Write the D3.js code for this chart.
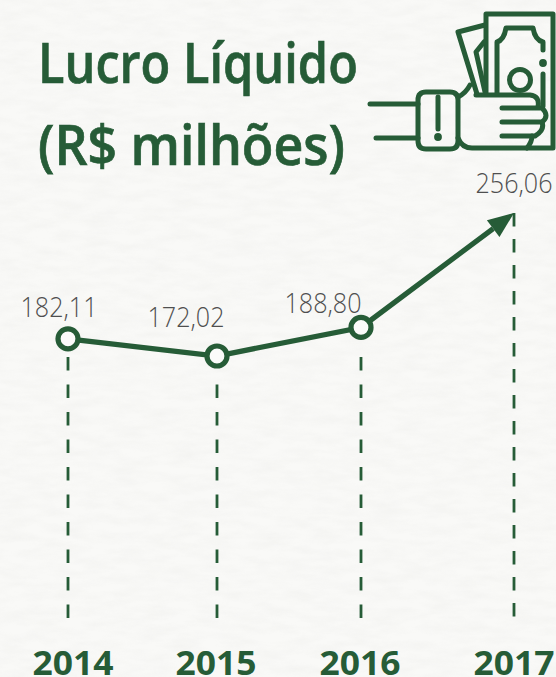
<!DOCTYPE html>
<html lang="pt">
<head>
<meta charset="utf-8">
<script src="https://cdn.jsdelivr.net/npm/d3@7/dist/d3.min.js"></script>
<style>
html,body{margin:0;padding:0;background:#f7f7f5;overflow:hidden}
svg{display:block}
</style>
</head>
<body>
<div id="chart"></div>
<script>
const years = ["2014", "2015", "2016", "2017"];
const lucro = [182.11, 172.02, 188.80, 256.06];
const valueLabels = ["182,11", "172,02", "188,80", "256,06"];
const titleLines = ["Lucro Líquido", "(R$ milhões)"];

const W = 556, H = 677, green = "#265c37", grey = "#4f4f4f";
const svg = d3.select("#chart").append("svg").attr("width", W).attr("height", H);

// paper texture
const defs = svg.append("defs");
const f = defs.append("filter").attr("id", "paper").attr("x", 0).attr("y", 0).attr("width", "100%").attr("height", "100%");
f.append("feTurbulence").attr("type", "fractalNoise").attr("baseFrequency", "0.035 0.12").attr("numOctaves", 4).attr("seed", 7);
f.append("feColorMatrix").attr("type", "matrix").attr("values", "0 0 0 0 0.55  0 0 0 0 0.55  0 0 0 0 0.52  0.28 0 0 0 -0.09");
svg.append("rect").attr("width", W).attr("height", H).attr("fill", "#f9f9f7");
svg.append("rect").attr("width", W).attr("height", H).attr("filter", "url(#paper)").attr("opacity", .55);

const x = d3.scaleOrdinal().domain(years).range([68, 217, 361, 514]);
const y = d3.scaleLinear().domain([172.02, 256.06]).range([356, 213]);

// squeezes real text horizontally to a target width around an anchor point
function fit(sel, widthFn, anchorFn, baseFn, mid) {
  sel.each(function (d, i) {
    const t = d3.select(this);
    const w = this.getComputedTextLength();
    const k = widthFn(d, i) / w;
    t.attr("text-anchor", mid ? "middle" : "start")
     .attr("transform", `translate(${anchorFn(d, i)},${baseFn(d, i)}) scale(${k},1)`);
  });
}

// title
const titleX = [38, 38], titleY = [83, 165], titleW = [320, 307];
svg.append("g").selectAll("text").data(titleLines).join("text")
  .attr("font-family", "'Open Sans', sans-serif").attr("font-weight", 600).attr("font-size", 56)
  .attr("fill", green).attr("stroke", green).attr("stroke-width", 0.7).text(d => d)
  .call(fit, (d, i) => titleW[i], (d, i) => titleX[i], (d, i) => titleY[i], false);

// dashed guides, each measured from its own end
const axisBottom = 618;
const guideTopGap = [18, 16, 18];
svg.append("g").selectAll("line").data(years).join("line")
  .attr("x1", d => x(d)).attr("x2", d => x(d))
  .attr("y1", (d, i) => i === 3 ? y(lucro[i]) : axisBottom)
  .attr("y2", (d, i) => i === 3 ? axisBottom - 1 : y(lucro[i]) + guideTopGap[i])
  .attr("stroke", green).attr("stroke-width", 2.8)
  .attr("stroke-dasharray", (d, i) => i === 3 ? "13.5 12.5" : "13.5 14");

// line
const pts = years.map((d, i) => [x(d), y(lucro[i])]);
const tip = pts[3], prev = pts[2];
const ang = Math.atan2(tip[1] - prev[1], tip[0] - prev[0]);
const head = 26, hw = 10.5;
const base = [tip[0] - head * Math.cos(ang), tip[1] - head * Math.sin(ang)];
svg.append("path").datum([...pts.slice(0, 3), base])
  .attr("d", d3.line()).attr("fill", "none").attr("stroke", green).attr("stroke-width", 5.2);
svg.append("path").attr("fill", green).attr("d", d3.line()([
  tip,
  [base[0] + hw * Math.sin(ang), base[1] - hw * Math.cos(ang)],
  [base[0] - hw * Math.sin(ang), base[1] + hw * Math.cos(ang)]
]) + "Z");

// markers
svg.append("g").selectAll("circle").data(years.slice(0, 3)).join("circle")
  .attr("cx", d => x(d)).attr("cy", (d, i) => y(lucro[i])).attr("r", 10)
  .attr("fill", "#fbfbfa").attr("stroke", green).attr("stroke-width", 5.2);

// value labels
const labelCx = [59, 186, 323, 514], labelBase = [317, 327, 313, 193];
svg.append("g").selectAll("text").data(valueLabels).join("text")
  .attr("font-family", "'Open Sans', sans-serif").attr("font-weight", 300).attr("font-size", 27)
  .attr("fill", grey).text(d => d)
  .call(fit, () => 77, (d, i) => labelCx[i], (d, i) => labelBase[i], true);

// year labels
const yearCx = [73, 216, 360, 514];
svg.append("g").selectAll("text").data(years).join("text")
  .attr("font-family", "'Open Sans', sans-serif").attr("font-weight", 700).attr("font-size", 34)
  .attr("fill", green).text(d => d)
  .call(fit, () => 81, (d, i) => yearCx[i], () => 675, true);

// icon
const icon = svg.append("g").attr("fill", "none").attr("stroke", green).attr("stroke-width", 5)
  .attr("stroke-linecap", "round").attr("stroke-linejoin", "round");
[
  "M370,104H418", "M376,138H418",
  "M426,92H450Q458,92 458,100V141Q458,149 450,149H426Q418,149 418,141V100Q418,92 426,92Z",
  "M438,97V129",
  "M458,97Q466,93 470,85", "M458,138Q462,148 472,148H553V14H486V94",
  "M476,95H530Q540,96 538,107",
  "M502,108H540", "M502,122H542Q550,116 542,108", "M502,136H535Q545,130 542,122", "M527,148Q532,142 532,136",
  "M497,93V42Q504,40 506,28H533Q535,40 543,42V50", "M543,74V106",
  "M485,25L458,32L477,94", "M484,42L476,52L485,92"
].forEach(d => icon.append("path").attr("d", d));
icon.append("circle").attr("cx", 520).attr("cy", 80).attr("r", 10.5);
icon.append("circle").attr("cx", 543).attr("cy", 63).attr("r", 1.4).attr("fill", green);
icon.append("circle").attr("cx", 438).attr("cy", 137).attr("r", 1.4).attr("fill", green);
</script>
</body>
</html>
